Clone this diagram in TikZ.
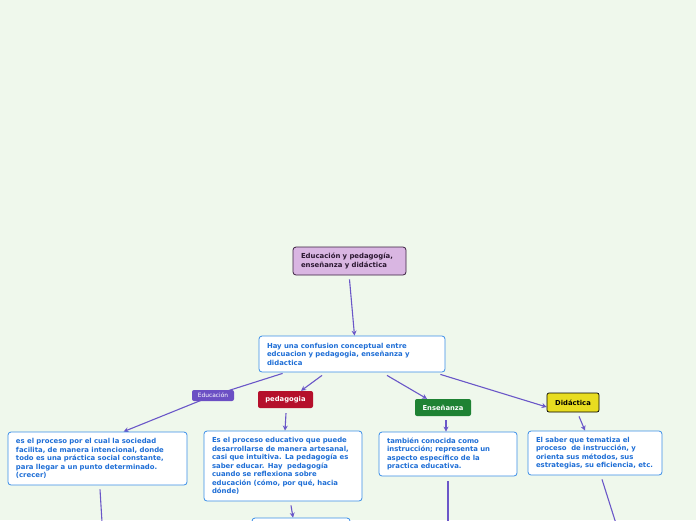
\documentclass[tikz,border=0pt]{standalone}
\usepackage{fontspec}
\setmainfont{DejaVu Sans}
\usetikzlibrary{arrows.meta,calc}
\definecolor{bg}{HTML}{EFF8EC}
\definecolor{conn}{HTML}{6A57C8}
\definecolor{boxblue}{HTML}{3A8EE8}
\definecolor{txtblue}{HTML}{1E6ED6}
\definecolor{topfill}{HTML}{D9B6E2}
\definecolor{topdraw}{HTML}{3A2040}
\definecolor{toptext}{HTML}{2A1830}
\definecolor{educfill}{HTML}{6B4FC4}
\definecolor{pedfill}{HTML}{B5102B}
\definecolor{ensfill}{HTML}{1E8233}
\definecolor{didfill}{HTML}{E8DD20}
\pgfdeclarelayer{back}
\pgfdeclarelayer{lines}
\pgfsetlayers{back,lines,main}
\hbadness=10000 \hfuzz=20pt
\tikzset{
  conline/.style={draw=conn,line width=1.1pt,-{Stealth[length=5pt,width=5pt]}},
  plainline/.style={draw=conn,line width=1.1pt},
  infobox/.style={draw=boxblue,fill=white,rounded corners=3pt,line width=0.8pt,
    text=txtblue,font=\bfseries\fontsize{6.9}{8.5}\selectfont,align=left,
    inner xsep=8pt,inner ysep=2pt,anchor=center},
  topbox/.style={draw=topdraw,fill=topfill,rounded corners=3pt,line width=0.8pt,
    text=toptext,font=\bfseries\fontsize{6.9}{8.5}\selectfont,align=left,
    inner xsep=8pt,inner ysep=2pt,anchor=center},
  tag/.style={rounded corners=2pt,font=\bfseries\fontsize{6.8}{8}\selectfont,
    text=white,align=center,inner sep=0pt,anchor=center},
}
\begin{document}
\begin{tikzpicture}[x=1pt,y=-1pt]
\useasboundingbox (0,0) rectangle (696,520);
\begin{pgfonlayer}{back}
\fill[bg] (0,0) rectangle (696,520);
\end{pgfonlayer}
\clip (0,0) rectangle (696,520);

\node[topbox,minimum width=113pt,minimum height=28pt,text width=97pt] (top) at (349.5,261)
  {Educación y pedagogía,\\enseñanza y didáctica};
\node[infobox,minimum width=186pt,minimum height=36pt,text width=170pt] (main) at (352,354)
  {Hay una confusion conceptual entre\\edcuacion y pedagogia, enseñanza y\\didactica};

\node[infobox,minimum width=179pt,minimum height=53pt,text width=163pt] (L) at (97.5,458.5)
  {es el proceso por el cual la sociedad\\facilita, de manera intencional, donde\\todo es una práctica social constante,\\para llegar a un punto determinado.\\(crecer)};
\node[infobox,minimum width=158pt,minimum height=70pt,text width=142pt] (P) at (283,466)
  {Es el proceso educativo que puede\\desarrollarse de manera artesanal,\\casi que intuitiva. La pedagogía es\\saber educar. Hay~ pedagogía\\cuando se reflexiona sobre\\educación (cómo, por qué, hacia\\dónde)};
\node[infobox,minimum width=138pt,minimum height=44pt,text width=122pt] (E) at (448,454)
  {también conocida como\\instrucción; representa un\\aspecto específico de la\\practica educativa.};
\node[infobox,minimum width=134pt,minimum height=44pt,text width=118pt] (D) at (595,453)
  {El saber que tematiza el\\proceso~ de instrucción, y\\orienta sus métodos, sus\\estrategias, su eficiencia, etc.};
\node[infobox,minimum width=98pt,minimum height=24pt] (Pn) at (301,530) {};

% tags
\node[tag,fill=educfill,minimum width=42pt,minimum height=11pt,font=\fontsize{5.9}{7}\selectfont] (educ) at (213,395.5) {Educación};
\node[tag,fill=pedfill,minimum width=55pt,minimum height=17pt] (pedagogia) at (285.5,399.5) {pedagogia};
\node[tag,fill=ensfill,minimum width=56pt,minimum height=17pt] (ens) at (443,407.5) {Enseñanza};
\node[tag,fill=didfill,draw=black,line width=0.7pt,text=black,minimum width=52pt,minimum height=19pt] (did) at (573,402.5) {Didáctica};

\coordinate (Lend) at (102,522);
\coordinate (Eend) at (448,522);
\coordinate (Dend) at (615.5,522);

% connectors
\begin{pgfonlayer}{lines}
\draw[conline] ([yshift=-4pt]top.south) -- ([xshift=2.5pt]main.north);
\draw[conline] ([xshift=24pt,yshift=-1pt]main.south west) -- (educ.center) -- ([xshift=116pt]L.north west);
\draw[conline] ([xshift=-30pt,yshift=-3pt]main.south) -- ([xshift=15.5pt]pedagogia.north);
\draw[conline] ([xshift=35pt,yshift=-3pt]main.south) -- ([xshift=-16pt]ens.north);
\draw[conline] ([xshift=-5pt,yshift=-2pt]main.south east) -- ([yshift=-4.5pt]did.west);
\draw[conline] ([xshift=0.5pt,yshift=-5pt]pedagogia.south) -- ([xshift=2pt]P.north);
\draw[conline] ([xshift=3pt,yshift=-4pt]ens.south) -- ([xshift=-2pt]E.north);
\draw[conline] ([xshift=6pt,yshift=-4pt]did.south) -- ([xshift=-10pt]D.north);
\draw[conline] ([xshift=8pt,yshift=-4pt]P.south) -- ([xshift=-8pt]Pn.north);
\draw[plainline] ([xshift=2.5pt,yshift=-4pt]L.south) -- (Lend);
\draw[plainline] ([yshift=-5pt]E.south) -- (Eend);
\draw[plainline] ([xshift=7pt,yshift=-4pt]D.south) -- (Dend);
\end{pgfonlayer}
\end{tikzpicture}
\end{document}
